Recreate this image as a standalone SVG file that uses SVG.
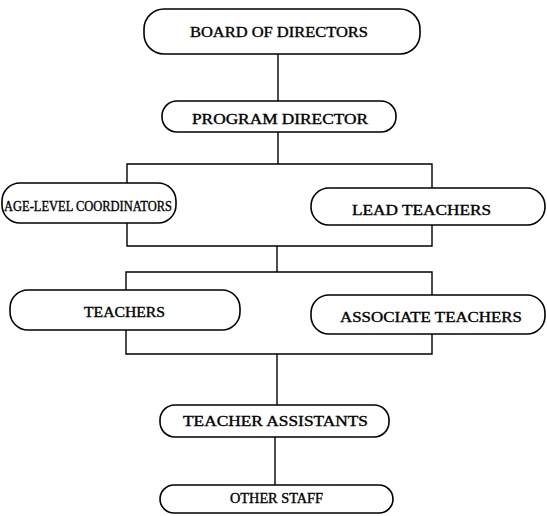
<svg xmlns="http://www.w3.org/2000/svg" width="547" height="516" viewBox="0 0 547 516">
  <style>
    .box { fill: #ffffff; stroke: #000000; stroke-width: 1.6; }
    .lbl { font-family: "Liberation Serif", "Times New Roman", serif; font-size: 14px; font-weight: normal; fill: #000000; stroke: #000000; stroke-width: 0.35; }
    .wire { fill: none; stroke: #000000; stroke-width: 1.4; }
  </style>
  <rect width="547" height="516" fill="#ffffff"/>

  <!-- connectors -->
  <g id="connectors" class="wire">
    <path d="M278 54 V101"/>
    <path d="M278 132 V164"/>
    <path d="M127 183 V164 H432 V188"/>
    <path d="M127 223 V246 H432 V225"/>
    <path d="M277 246 V272"/>
    <path d="M126 290 V272 H432 V295"/>
    <path d="M126 330 V354 H432 V334"/>
    <path d="M277 354 V405"/>
    <path d="M275 437 V485"/>
  </g>

  <g id="board">
    <rect class="box" x="144" y="9" width="276" height="45" rx="20"/>
    <text class="lbl" x="190" y="37" textLength="178" lengthAdjust="spacingAndGlyphs">BOARD OF DIRECTORS</text>
  </g>

  <g id="program-director">
    <rect class="box" x="162" y="101" width="234" height="31" rx="15"/>
    <text class="lbl" x="192" y="124" textLength="176" lengthAdjust="spacingAndGlyphs">PROGRAM DIRECTOR</text>
  </g>

  <g id="age-level-coordinators">
    <rect class="box" x="2" y="183" width="174" height="40" rx="18"/>
    <text class="lbl" x="4" y="211" textLength="168" lengthAdjust="spacingAndGlyphs">AGE-LEVEL COORDINATORS</text>
  </g>

  <g id="lead-teachers">
    <rect class="box" x="311" y="188" width="234" height="37" rx="18"/>
    <text class="lbl" x="352" y="215" textLength="139" lengthAdjust="spacingAndGlyphs">LEAD TEACHERS</text>
  </g>

  <g id="teachers">
    <rect class="box" x="10" y="290" width="230" height="40" rx="18"/>
    <text class="lbl" x="84" y="317" textLength="81" lengthAdjust="spacingAndGlyphs">TEACHERS</text>
  </g>

  <g id="associate-teachers">
    <rect class="box" x="311" y="295" width="234" height="39" rx="18"/>
    <text class="lbl" x="340" y="322" textLength="182" lengthAdjust="spacingAndGlyphs">ASSOCIATE TEACHERS</text>
  </g>

  <g id="teacher-assistants">
    <rect class="box" x="160" y="405" width="229" height="32" rx="15"/>
    <text class="lbl" x="183" y="426" textLength="185" lengthAdjust="spacingAndGlyphs">TEACHER ASSISTANTS</text>
  </g>

  <g id="other-staff">
    <rect class="box" x="160" y="485" width="233" height="28" rx="14"/>
    <text class="lbl" x="230" y="503" textLength="93" lengthAdjust="spacingAndGlyphs">OTHER STAFF</text>
  </g>
</svg>
